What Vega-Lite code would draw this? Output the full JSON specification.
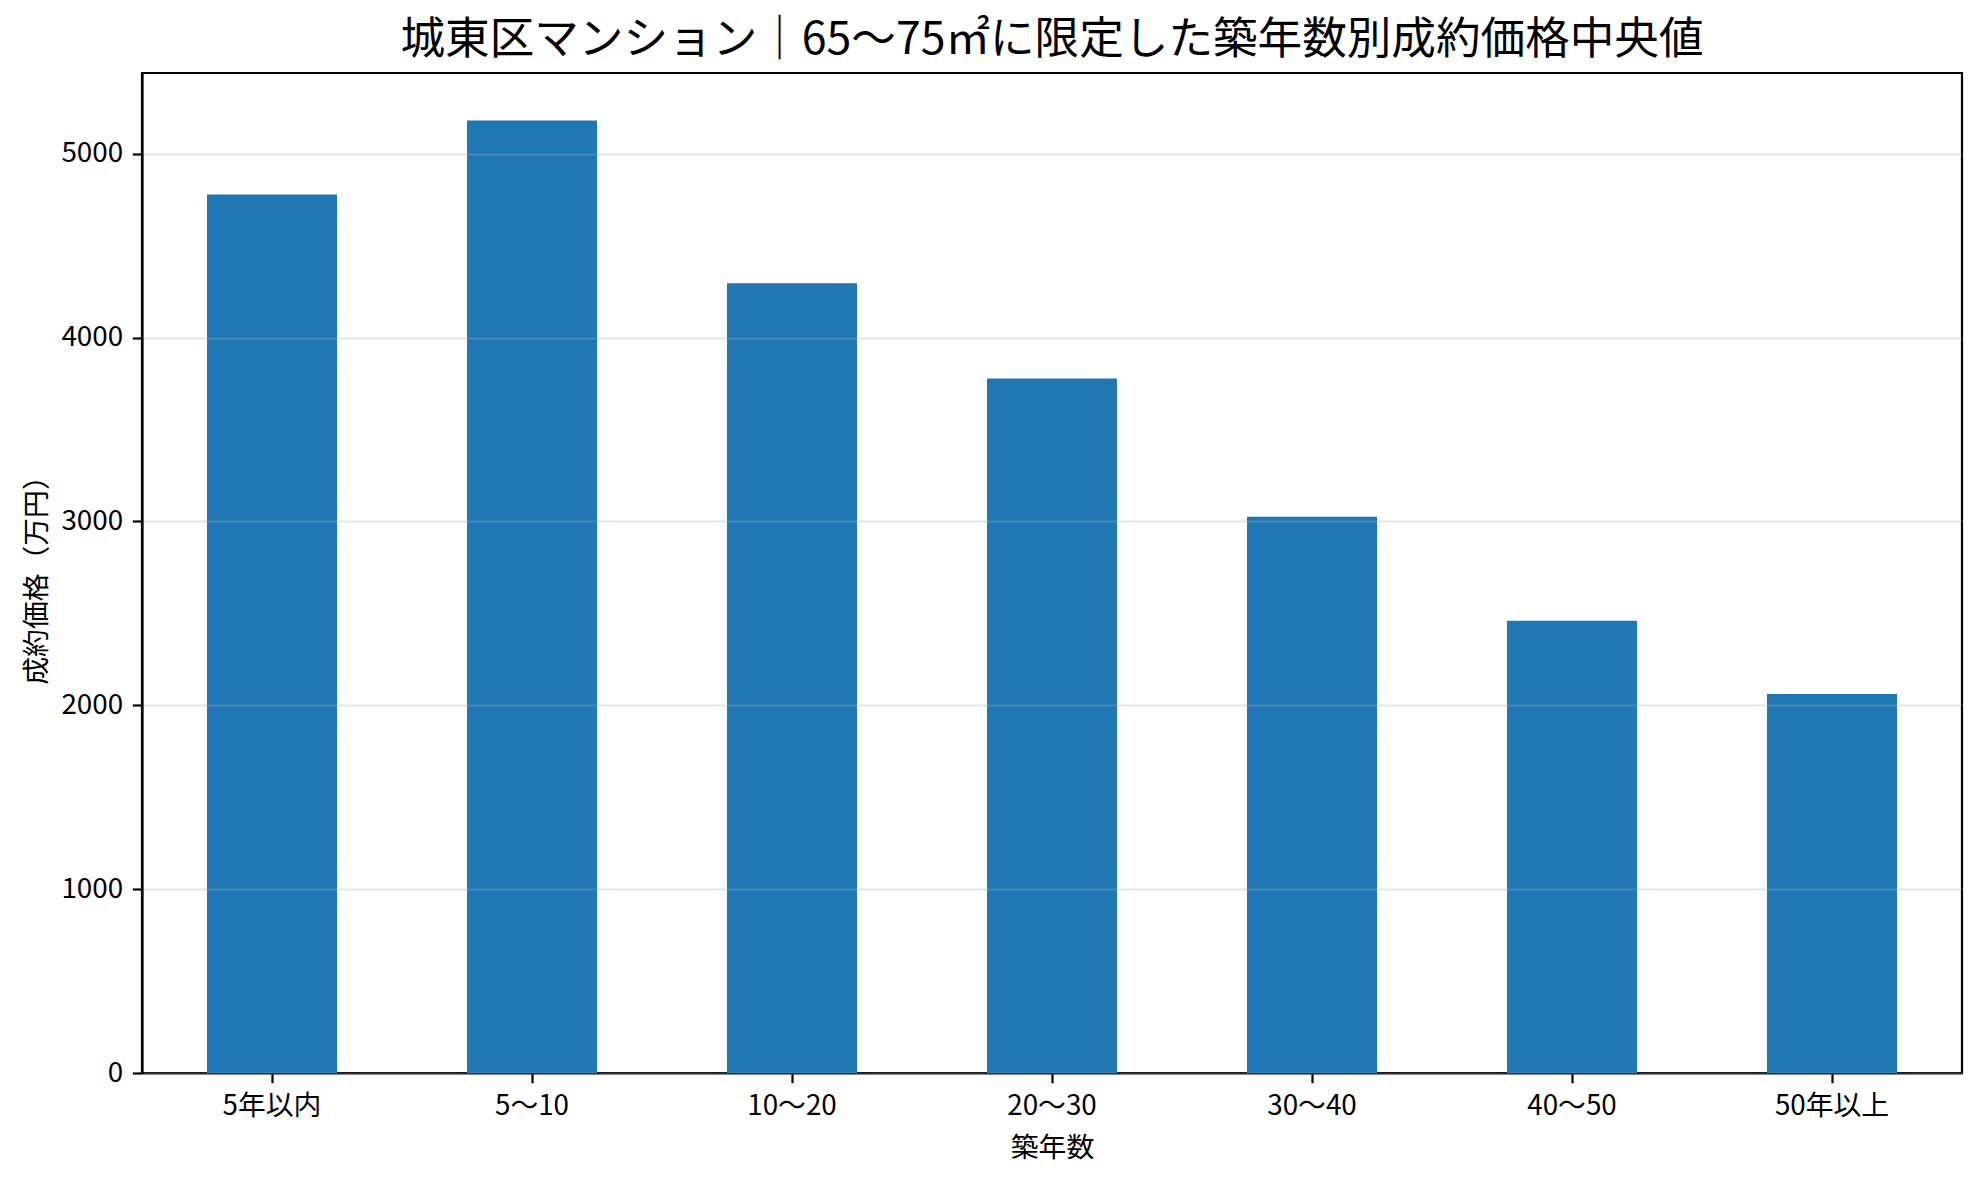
{
  "$schema": "https://vega.github.io/schema/vega-lite/v6.json",
  "width": 1820,
  "height": 1000,
  "autosize": {"type": "none"},
  "padding": {"left": 142, "top": 73, "right": 19, "bottom": 111},
  "background": "white",
  "title": {
    "text": "城東区マンション｜65〜75㎡に限定した築年数別成約価格中央値",
    "font": "Noto Sans CJK JP",
    "fontSize": 44.6,
    "fontWeight": "normal",
    "color": "black",
    "anchor": "middle",
    "baseline": "bottom",
    "offset": 12,
    "dy": 47
  },
  "config": {
    "view": {"stroke": "black", "strokeWidth": 2.2},
    "font": "Noto Sans CJK JP",
    "axis": {
      "labelFont": "Noto Sans CJK JP",
      "titleFont": "Noto Sans CJK JP",
      "labelFontSize": 27.8,
      "titleFontSize": 27.8,
      "titleFontWeight": "normal",
      "labelColor": "black",
      "titleColor": "black",
      "domainColor": "black",
      "domainWidth": 2.2,
      "tickColor": "black",
      "tickWidth": 2.2,
      "tickSize": 9.7,
      "labelPadding": 9.7
    }
  },
  "data": {
    "values": [
      {"築年数": "5年以内", "価格": 4778},
      {"築年数": "5〜10", "価格": 5180},
      {"築年数": "10〜20", "価格": 4295},
      {"築年数": "20〜30", "価格": 3778},
      {"築年数": "30〜40", "価格": 3025},
      {"築年数": "40〜50", "価格": 2460},
      {"築年数": "50年以上", "価格": 2062}
    ]
  },
  "mark": {"type": "bar", "color": "#1f77b4"},
  "encoding": {
    "x": {
      "field": "築年数",
      "type": "nominal",
      "sort": null,
      "scale": {"paddingInner": 0.5, "paddingOuter": 0.25},
      "axis": {"title": "築年数", "labelAngle": 0, "grid": false, "titlePadding": 14}
    },
    "y": {
      "field": "価格",
      "type": "quantitative",
      "scale": {"domain": [0, 5439], "nice": false, "zero": true},
      "axis": {
        "title": "成約価格（万円）",
        "values": [0, 1000, 2000, 3000, 4000, 5000],
        "format": "d",
        "grid": true,
        "gridColor": "#b0b0b0",
        "gridOpacity": 0.3,
        "gridWidth": 2,
        "zindex": 1,
        "titlePadding": 9
      }
    }
  }
}
